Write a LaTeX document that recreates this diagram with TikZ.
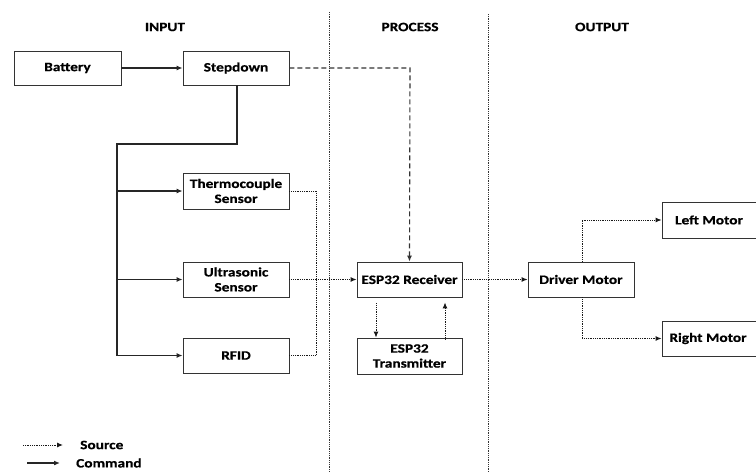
\documentclass[tikz,border=0pt]{standalone}
\usepackage{fontspec}
\setmainfont{Carlito}[FakeStretch=1.2,FakeBold=0.6]
\usetikzlibrary{arrows.meta}
\begin{document}
\begin{tikzpicture}[x=1pt,y=-1pt,
  font=\fontsize{12.8pt}{15pt}\selectfont\bfseries,
  box/.style={draw=black!80,line width=0.8pt,minimum width=106pt,minimum height=35pt,inner sep=1pt,align=center},
  cmd/.style={line width=1.3pt,draw=black!85,-{Latex[length=6pt,width=5pt]}},
  cmdline/.style={line width=1.3pt,draw=black!85},
  src/.style={line width=1pt,draw=black!90,dash pattern=on 1pt off 0.8pt,-{Latex[length=6pt,width=5pt]}},
  srcline/.style={line width=1pt,draw=black!90,dash pattern=on 1pt off 0.8pt},
  pwr/.style={line width=1.1pt,draw=black!80,dash pattern=on 5pt off 3pt,-{Latex[length=6pt,width=5pt]}},
  divider/.style={line width=1pt,draw=black!80,dash pattern=on 1pt off 0.8pt},
  head/.style={inner sep=0pt}]
\useasboundingbox (0,0) rectangle (756,472);
% headings
\node[head] (hin) at (165,27) {INPUT};
\node[head] (hproc) at (410,27) {PROCESS};
\node[head] (hout) at (602,27) {OUTPUT};
% dividers
\coordinate (d1t) at (329,12); \coordinate (d1b) at (329,472);
\coordinate (d2t) at (488,14); \coordinate (d2b) at (488,472);
\draw[divider] (d1t) -- (d1b);
\draw[divider] (d2t) -- (d2b);
% boxes
\node[box,minimum width=107pt,minimum height=34pt] (bat) at (67.5,68) {Battery};
\node[box,minimum height=34pt] (step) at (236,68) {Stepdown};
\node[box,minimum height=36pt] (thermo) at (236,191) {Thermocouple\\Sensor};
\node[box] (ultra) at (236,279.5) {Ultrasonic\\Sensor};
\node[box] (rfid) at (236,355.5) {RFID};
\node[box,minimum width=105pt] (recv) at (409.5,279.5) {ESP32 Receiver};
\node[box,minimum width=105pt,minimum height=36pt] (trans) at (409.5,356) {ESP32\\Transmitter};
\node[box] (driver) at (581,279.5) {Driver Motor};
\node[box,minimum height=36pt] (left) at (715,220) {\hspace*{-12pt}Left Motor};
\node[box] (right) at (715,338.5) {\hspace*{-14pt}Right Motor};
% command lines
\draw[cmd] (bat) -- (step);
\coordinate (s1) at (237,144);
\coordinate (bus) at (117,144);
\coordinate (bt) at (117,191);
\coordinate (bu) at (117,279.5);
\coordinate (br) at (117,355.5);
\draw[cmdline] (step.south -| s1) -- (s1) -- (bus) -- (br);
\draw[cmd] (bt) -- (thermo.west);
\draw[cmd] (bu) -- (ultra.west);
\draw[cmd] (br) -- (rfid.west);
% power dashed
\coordinate (pc) at (410,68);
\draw[pwr] (step.east) -- (pc) -- (recv.north);
% source lines
\coordinate (j) at (316,279.5);
\draw[srcline] (thermo.east) -| (j);
\draw[srcline] (rfid.east) -| (j);
\draw[src] (ultra.east) -- (recv.west);
\draw[src] ([xshift=-33.5pt,yshift=-6pt]recv.south) -- ([xshift=-33.5pt]trans.north);
\draw[src] ([xshift=35.5pt,yshift=-2pt]trans.north) -- ([xshift=35.5pt,yshift=-5pt]recv.south);
\draw[src] (recv.east) -- (driver.west);
\coordinate (dl) at (582,220);
\coordinate (dr) at (582,338.5);
\draw[src] (driver.north -| dl) -- (dl) -- (left.west);
\draw[src] (driver.south -| dr) -- (dr) -- (right.west);
% legend
\coordinate (ls1) at (23,445); \coordinate (ls2) at (63,445);
\coordinate (lc1) at (27,463); \coordinate (lc2) at (60,463);
\draw[src] (ls1) -- (ls2);
\draw[cmd] (lc1) -- (lc2);
\node[head,anchor=west] (lsrc) at (80,445) {Source};
\node[head,anchor=west] (lcmd) at (76,463) {Command};
\end{tikzpicture}
\end{document}
